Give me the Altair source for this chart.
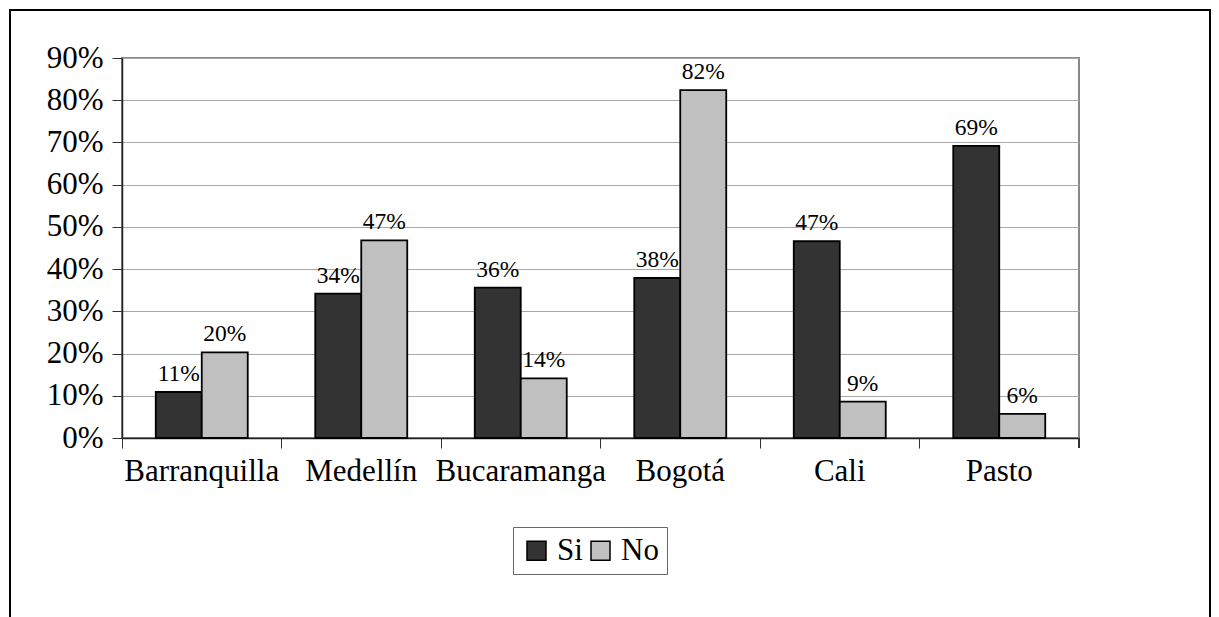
import altair as alt
import pandas as pd

cities = ["Barranquilla", "Medellín", "Bucaramanga", "Bogotá", "Cali", "Pasto"]
series = ["Si", "No"]
si_values = [0.109, 0.342, 0.356, 0.379, 0.466, 0.692]
no_values = [0.203, 0.468, 0.141, 0.824, 0.086, 0.057]
y_ticks = [0.0, 0.1, 0.2, 0.3, 0.4, 0.5, 0.6, 0.7, 0.8, 0.9]
colors = ["#333333", "#c0c0c0"]

rows = []
for c, s, n in zip(cities, si_values, no_values):
    rows.append({"ciudad": c, "serie": "Si", "valor": s})
    rows.append({"ciudad": c, "serie": "No", "valor": n})
df = pd.DataFrame(rows)

FONT = "Liberation Serif"
W, H = 957, 380

x_enc = alt.X("ciudad:N", sort=cities, title=None,
              scale=alt.Scale(paddingInner=0, paddingOuter=0),
              axis=alt.Axis(bandPosition=0, labelAngle=0, labelFont=FONT, labelFontSize=31,
                            labelColor="black", labelPadding=8, tickSize=10, tickColor="#333",
                            domainColor="#222", domainWidth=1.5, ticks=True, grid=False))
xo_enc = alt.XOffset("serie:N", sort=series,
                     scale=alt.Scale(domain=series, paddingInner=0, paddingOuter=0.734))
y_enc = alt.Y("valor:Q", title=None,
              scale=alt.Scale(domain=[0, 0.9], nice=False),
              axis=alt.Axis(values=y_ticks, format=".0%", labelFont=FONT, labelFontSize=31,
                            labelColor="black", labelPadding=9, tickSize=10, tickColor="#333",
                            domainColor="#222", domainWidth=1.5, gridColor="#a8a8a8",
                            gridWidth=1))

base = alt.Chart(df)

bars = base.mark_bar(stroke="black", strokeWidth=1.8).encode(
    x=x_enc, xOffset=xo_enc, y=y_enc,
    color=alt.Color("serie:N", sort=series,
                    scale=alt.Scale(domain=series, range=colors),
                    legend=alt.Legend(orient="none", legendX=391, legendY=469,
                                      direction="horizontal", title=None,
                                      symbolType="square", symbolSize=361,
                                      symbolStrokeColor="black", symbolStrokeWidth=1.5,
                                      labelFont=FONT, labelFontSize=31, labelColor="black",
                                      labelOffset=5, columnPadding=2, padding=8,
                                      strokeColor="#666", fillColor="white")),
)

labels = base.mark_text(baseline="bottom", dy=-6, font=FONT, fontSize=23.5, color="black").encode(
    x=alt.X("ciudad:N", sort=cities), xOffset=alt.XOffset("serie:N", sort=series), y="valor:Q",
    text=alt.Text("valor:Q", format=".0%"),
)

end_tick = alt.Chart(df).mark_rule(color="#333", strokeWidth=1).encode(
    x=alt.value(W), y=alt.value(H), y2=alt.value(H + 10))

frame = alt.Chart(df).mark_rect(fill=None, stroke="black", strokeWidth=2).encode(
    x=alt.value(-112), x2=alt.value(1088), y=alt.value(-48), y2=alt.value(700))

chart = alt.layer(frame, bars, labels, end_tick).properties(
    width=W, height=H,
    autosize=alt.AutoSizeParams(type="none"),
    padding={"left": 114, "top": 50, "right": 132, "bottom": 185},
    background="white",
).configure_view(stroke="#888888", strokeWidth=2)

chart.save("out.html", embed_options={"renderer": "svg", "actions": False})
